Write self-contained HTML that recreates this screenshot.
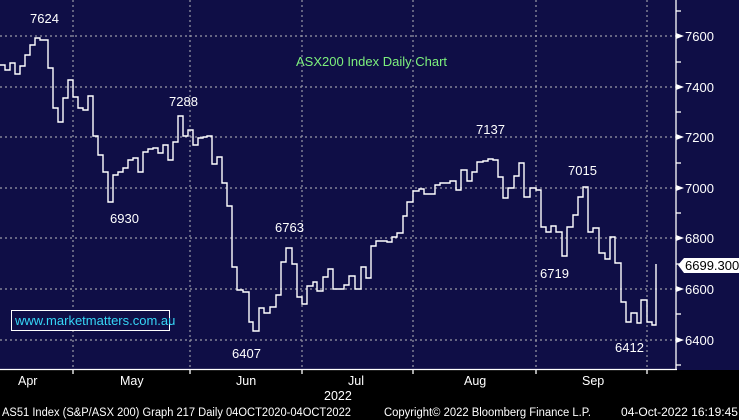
<!DOCTYPE html><html><head><style>body{margin:0;background:#000}svg{display:block}</style></head><body>
<svg width="739" height="420" xmlns="http://www.w3.org/2000/svg" font-family="Liberation Sans, sans-serif">
<rect width="739" height="420" fill="#000"/>
<rect width="739" height="370" fill="#0f0e46"/>
<g stroke="#9a9aa6" stroke-width="1.2" stroke-dasharray="2,3">
<line x1="0" y1="36" x2="676" y2="36"/><line x1="0" y1="87" x2="676" y2="87"/><line x1="0" y1="137" x2="676" y2="137"/><line x1="0" y1="188" x2="676" y2="188"/><line x1="0" y1="238" x2="676" y2="238"/><line x1="0" y1="289" x2="676" y2="289"/><line x1="0" y1="340" x2="676" y2="340"/>
<line x1="73" y1="0" x2="73" y2="369"/><line x1="190" y1="0" x2="190" y2="369"/><line x1="302" y1="0" x2="302" y2="369"/><line x1="413" y1="0" x2="413" y2="369"/><line x1="536" y1="0" x2="536" y2="369"/><line x1="647" y1="0" x2="647" y2="369"/>
</g>
<g stroke="#fff" stroke-width="1.3">
<line x1="0" y1="369.5" x2="677" y2="369.5"/><line x1="676" y1="0" x2="676" y2="370"/>
<line x1="73" y1="369" x2="73" y2="374"/><line x1="190" y1="369" x2="190" y2="374"/><line x1="302" y1="369" x2="302" y2="374"/><line x1="413" y1="369" x2="413" y2="374"/><line x1="536" y1="369" x2="536" y2="374"/><line x1="647" y1="369" x2="647" y2="374"/>
<line x1="676" y1="11" x2="681" y2="11"/><line x1="676" y1="62" x2="681" y2="62"/><line x1="676" y1="112" x2="681" y2="112"/><line x1="676" y1="163" x2="681" y2="163"/><line x1="676" y1="213" x2="681" y2="213"/><line x1="676" y1="264" x2="681" y2="264"/><line x1="676" y1="314" x2="681" y2="314"/><line x1="676" y1="365" x2="681" y2="365"/>
</g>
<g fill="#fff"><polygon points="676,33 684,36 676,39"/><polygon points="676,84 684,87 676,90"/><polygon points="676,134 684,137 676,140"/><polygon points="676,185 684,188 676,191"/><polygon points="676,235 684,238 676,241"/><polygon points="676,286 684,289 676,292"/><polygon points="676,337 684,340 676,343"/></g>
<g fill="#fff" font-size="13">
<text x="685" y="41">7600</text><text x="685" y="92">7400</text><text x="685" y="142">7200</text><text x="685" y="193">7000</text><text x="685" y="243">6800</text><text x="685" y="294">6600</text><text x="685" y="345">6400</text>
</g>
<polygon points="678,265 684,258 739,258 739,273 684,273" fill="#fff"/>
<text x="685" y="270" font-size="13" fill="#000">6699.300</text>
<path fill="none" stroke="#fff" stroke-width="1.4" d="M0,65 H5 V70 H10 V63 H15 V74 H20 V66 H25 V55 H30 V45 H35 V38 H40 V40 H48 V68 H53 V108 H58 V122 H63 V98 H68 V80 H73 V97 H78 V108 H83 V110 H88 V96 H93 V136 H98 V155 H103 V172 H108 V202 H113 V175 H118 V172 H123 V168 H128 V160 H133 V158 H138 V172 H143 V152 H148 V149 H153 V148 H158 V153 H163 V145 H168 V160 H173 V142 H178 V116 H183 V136 H188 V130 H193 V145 H198 V138 H203 V137 H207 V136 H212 V164 H217 V157 H222 V183 H227 V206 H232 V267 H237 V290 H243 V292 H249 V322 H253 V331 H259 V308 H264 V313 H270 V307 H276 V295 H281 V262 H286 V248 H292 V264 H297 V297 H302 V304 H307 V286 H313 V282 H317 V291 H323 V277 H328 V269 H333 V289 H338 V289 H344 V285 H349 V276 H355 V289 H361 V267 H366 V278 H371 V246 H376 V241 H381 V241 H387 V242 H392 V237 H397 V233 H403 V216 H407 V202 H413 V191 H419 V189 H424 V194 H429 V194 H435 V185 H440 V183 H450 V181 H456 V190 H461 V170 H467 V181 H472 V172 H477 V162 H483 V161 H488 V159 H493 V160 H498 V177 H503 V198 H508 V188 H514 V176 H519 V163 H524 V197 H530 V188 H536 V190 H541 V227 H546 V232 H551 V226 H556 V232 H562 V256 H567 V227 H573 V215 H578 V197 H583 V187 H588 V232 H593 V228 H599 V253 H605 V259 H610 V237 H615 V263 H621 V302 H626 V322 H631 V313 H637 V323 H641 V300 H647 V322 H652 V325 H656 V264"/>
<g fill="#fff" font-size="13">
<text x="30" y="23">7624</text><text x="169" y="106">7288</text><text x="110" y="223">6930</text><text x="275" y="232">6763</text><text x="232" y="358">6407</text><text x="476" y="134">7137</text><text x="568" y="175">7015</text><text x="540" y="278">6719</text><text x="615" y="352">6412</text>
</g>
<text x="296" y="66" font-size="13" fill="#7df07d">ASX200 Index Daily Chart</text>
<rect x="11.5" y="310.5" width="158" height="20" fill="#0f0e46" stroke="#fff"/>
<text x="15" y="325" font-size="13" fill="#36d6f6">www.marketmatters.com.au</text>
<g fill="#fff" font-size="12.5">
<text x="18" y="385">Apr</text><text x="120" y="385">May</text><text x="236" y="385">Jun</text><text x="348" y="385">Jul</text><text x="464" y="385">Aug</text><text x="582" y="385">Sep</text><text x="324" y="400">2022</text>
</g>
<g fill="#fff" font-size="11.5">
<text x="2" y="416" textLength="349" lengthAdjust="spacingAndGlyphs">AS51 Index (S&amp;P/ASX 200) Graph 217  Daily 04OCT2020-04OCT2022</text>
<text x="384" y="416" textLength="207" lengthAdjust="spacingAndGlyphs">Copyright© 2022 Bloomberg Finance L.P.</text>
<text x="621" y="416" textLength="117" lengthAdjust="spacingAndGlyphs">04-Oct-2022 16:19:45</text>
</g>
</svg>
</body></html>
